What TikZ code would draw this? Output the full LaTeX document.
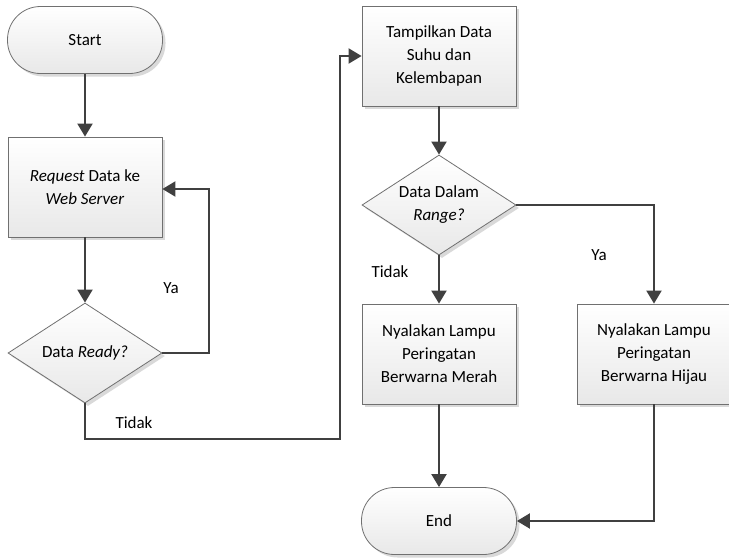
\documentclass[tikz,border=0pt]{standalone}
\usepackage{fontspec}
\setmainfont{Carlito}
\usetikzlibrary{positioning,arrows.meta,shapes.geometric,shadows}
\definecolor{linegray}{HTML}{404040}
\definecolor{edgegray}{HTML}{707070}

\tikzset{
  boxfill/.style={draw=edgegray,line width=0.8pt,top color=white,bottom color=black!9,
    drop shadow={shadow xshift=3pt,shadow yshift=-3pt,fill=black!15,opacity=1}},
  term/.style={boxfill,rectangle,rounded corners=33pt,minimum width=155pt,minimum height=67pt},
  proc/.style={boxfill,rectangle,align=center,minimum width=154pt,minimum height=100pt},
  dec/.style={boxfill,diamond,minimum width=154pt,minimum height=100pt,inner sep=0pt},
  flow/.style={-{Triangle[length=13pt,width=15pt]},draw=linegray,line width=2pt},
  lbl/.style={inner sep=0pt}
}

\begin{document}
\begin{tikzpicture}[x=1pt,y=-1pt,font=\fontsize{17}{23}\selectfont]
\useasboundingbox (0,0) rectangle (729,558);
% left column
\node[term] (start) at (85,40) {Start};
\node[proc] (req) at (85,187) {\textit{Request} Data ke\\\textit{Web Server}};
\node[dec,label={[align=center]center:Data \textit{Ready?}}] (ready) at (85,353) {};
% right column
\node[proc] (show) at (439,56) {Tampilkan Data\\Suhu dan\\Kelembapan};
\node[dec,label={[align=center]center:Data Dalam\\\textit{Range?}}] (range) at (439,205) {};
\node[proc] (red) at (439,354) {Nyalakan Lampu\\Peringatan\\Berwarna Merah};
\node[proc] (green) at (654,354) {Nyalakan Lampu\\Peringatan\\Berwarna Hijau};
\node[term] (end) at (439,521) {End};

\coordinate (loopR) at (209,189);
\coordinate (lowR) at (340,439);

\draw[flow] (start) -- (req);
\draw[flow] (req) -- (ready);
\draw[flow] (ready.east) -| (loopR) -- (req.east |- loopR);
\draw[flow] (ready.south) |- (lowR) |- (show.west);
\draw[flow] (show) -- (range);
\draw[flow] (range.south) -- (red.north);
\draw[flow] (range.east) -| (green.north);
\draw[flow] (red) -- (end);
\draw[flow] (green.south) |- (end.east);

\node[lbl] (yes1) at (171,288) {Ya};
\node[lbl] (no1) at (134,423) {Tidak};
\node[lbl] (no2) at (390,272) {Tidak};
\node[lbl] (yes2) at (599,255) {Ya};
\end{tikzpicture}
\end{document}
